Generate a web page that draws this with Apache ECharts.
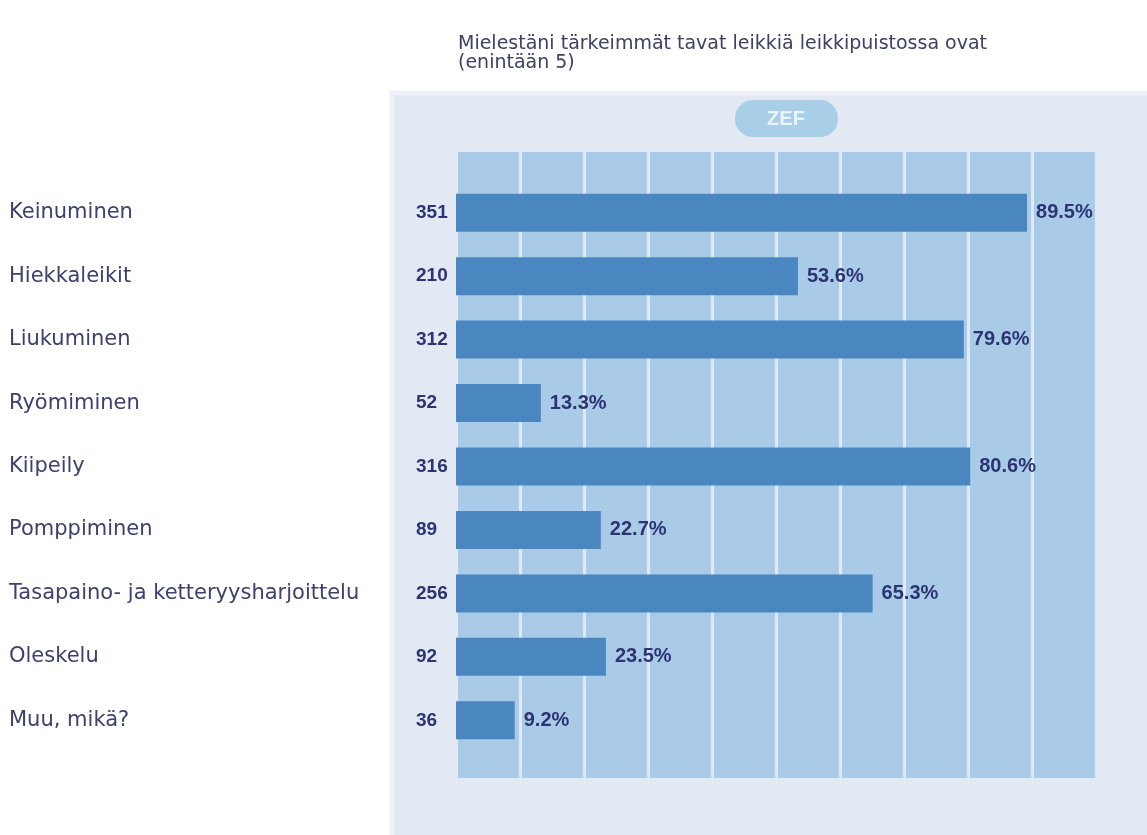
<!DOCTYPE html>
<html>
<head>
<meta charset="utf-8">
<script src="https://cdn.jsdelivr.net/npm/echarts@6/dist/echarts.min.js"></script>
<style>
html,body{margin:0;padding:0;background:#fff;}
#chart{width:1147px;height:835px;}
</style>
</head>
<body>
<div id="chart"></div>
<script>
// kysymys ja vastaukset
var titleText = 'Mielestäni tärkeimmät tavat leikkiä leikkipuistossa ovat\n(enintään 5)';
var categories = ['Keinuminen','Hiekkaleikit','Liukuminen','Ryömiminen','Kiipeily','Pomppiminen','Tasapaino- ja ketteryysharjoittelu','Oleskelu','Muu, mikä?'];
var counts = [351,210,312,52,316,89,256,92,36];
var percents = [89.5,53.6,79.6,13.3,80.6,22.7,65.3,23.5,9.2];

var navy = '#2c3473';

var chart = echarts.init(document.getElementById('chart'));
var option = {
	backgroundColor:'#ffffff',
	animation:false,
	title:{
		text:titleText,
		left:453,
		top:30,
		textStyle:{
			fontFamily:'DejaVu Sans',
			fontSize:19,
			fontWeight:'normal',
			lineHeight:19,
			color:'#3d4163'
		}
	},
	graphic:[
		{	// paneeli
			type:'rect',
			z:-10,
			shape:{x:392,y:93,width:760,height:750},
			style:{fill:'#e3e9f2',stroke:'#eef2f8',lineWidth:5}
		},
		{	// ZEF
			type:'rect',
			z:-5,
			shape:{x:735,y:100,width:103,height:37,r:18},
			style:{fill:'#a9cee8'}
		},
		{
			type:'text',
			z:-4,
			x:786,
			y:119,
			style:{text:'ZEF',fill:'#eaf4fb',font:'bold 20px Liberation Sans',align:'center',verticalAlign:'middle'}
		}
	],
	grid:[
		{left:456,right:51,top:152,bottom:57},	// taustasarakkeet
		{left:456,right:53,top:181,bottom:83}
	],
	xAxis:[
		{
			gridIndex:0,
			type:'value',
			min:0,
			max:100,
			interval:10,
			axisLine:{show:false},
			axisTick:{show:false},
			axisLabel:{show:false},
			splitLine:{show:true,lineStyle:{color:'#deebf6',width:3}},
			splitArea:{show:true,areaStyle:{color:['#a9cbe7']}}
		},
		{
			gridIndex:1,
			type:'value',
			min:0,
			max:100,
			show:false
		}
	],
	yAxis:[
		{
			gridIndex:0,
			type:'value',
			show:false
		},
		{
			gridIndex:1,
			type:'category',
			inverse:true,
			position:'left',
			data:categories,
			axisLine:{show:false},
			axisTick:{show:false},
			axisLabel:{
				margin:447,
				align:'left',
				fontFamily:'DejaVu Sans',
				fontSize:21,
				color:'#3d416e'
			}
		},
		{
			gridIndex:1,
			type:'category',
			inverse:true,
			position:'left',
			data:counts,
			axisLine:{show:false},
			axisTick:{show:false},
			axisLabel:{
				margin:40,
				align:'left',
				fontFamily:'Liberation Sans',
				fontWeight:'bold',
				fontSize:19,
				color:navy
			}
		}
	],
	series:[
		{
			type:'bar',
			xAxisIndex:1,
			yAxisIndex:1,
			data:percents,
			barWidth:38,
			itemStyle:{color:'#4a87c0'},
			label:{
				show:true,
				position:'right',
				distance:9,
				fontFamily:'Liberation Sans',
				fontWeight:'bold',
				fontSize:20,
				color:navy,
				formatter:function(p){
					return p.value.toFixed(1)+'%';
				}
			}
		}
	]
};
chart.setOption(option);
</script>
</body>
</html>
